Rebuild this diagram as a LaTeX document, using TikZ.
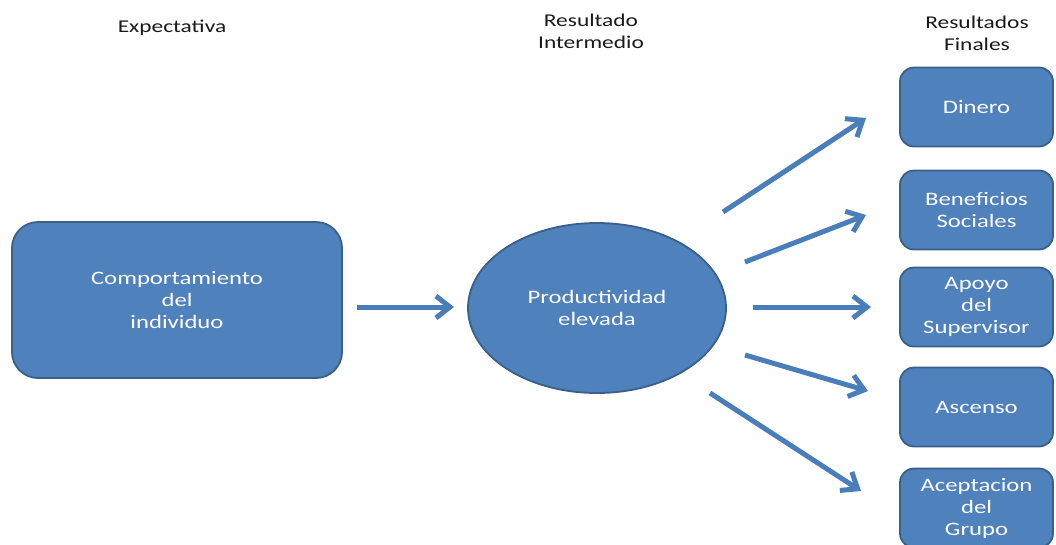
\documentclass[tikz,border=0pt]{standalone}
\usepackage{fontspec}
\setmainfont{Carlito}[FakeStretch=1.3]
\usetikzlibrary{shapes.geometric,arrows.meta}
\definecolor{boxfill}{HTML}{4F81BD}
\definecolor{boxline}{HTML}{3A5F8B}
\definecolor{arrcol}{HTML}{4A7EBB}
\definecolor{headcol}{HTML}{1A1A1A}
\tikzset{
  bluebox/.style={draw=boxline, line width=1.8pt, fill=boxfill, text=white,
    rounded corners=#1, align=center, font=\fontsize{19}{22}\selectfont, inner sep=0pt},
  bluebox/.default=14pt,
  blueell/.style={ellipse, draw=boxline, line width=1.8pt, fill=boxfill, text=white,
    align=center, font=\fontsize{19}{22}\selectfont, inner sep=0pt},
  header/.style={text=headcol, align=center, font=\fontsize{18}{22}\selectfont},
  arr/.style={draw=arrcol, line width=5pt,
    -{Straight Barb[length=14pt,width=22pt,line width=5pt]}},
}
\begin{document}
\begin{tikzpicture}[x=1pt,y=-1pt]
\clip (0,0) rectangle (1056,544);
\fill[white] (0,0) rectangle (1056,544);
% headers
\node[header] (h1) at (172,28) {Expectativa};
\node[header] (h2) at (591,31) {Resultado\\Intermedio};
\node[header] (h3) at (977,33) {Resultados\\Finales};
% main nodes
\node[bluebox=26pt, minimum width=330pt, minimum height=156pt] (comp) at (177,300)
  {Comportamiento\\del\\individuo};
\node[blueell, minimum width=258pt, minimum height=170pt] (prod) at (597,308)
  {Productividad\\elevada};
% right boxes
\node[bluebox, minimum width=153pt, minimum height=79pt] (din) at (976.5,107) {Dinero};
\node[bluebox, minimum width=153pt, minimum height=79pt] (ben) at (976.5,210) {Beneficios\\Sociales};
\node[bluebox, minimum width=153pt, minimum height=79pt] (apo) at (976.5,307) {Apoyo\\del\\Supervisor};
\node[bluebox, minimum width=153pt, minimum height=79pt] (asc) at (976.5,407) {Ascenso};
\node[bluebox, minimum width=153pt, minimum height=79pt] (ace) at (976.5,508) {Aceptacion\\del\\Grupo};
% arrow end points
\coordinate (a0s) at (357,307);  \coordinate (a0e) at (454,307);
\coordinate (a1s) at (723,212);  \coordinate (a1e) at (866,118);
\coordinate (a2s) at (745,262);  \coordinate (a2e) at (866,215);
\coordinate (a3s) at (753,307);  \coordinate (a3e) at (871,307);
\coordinate (a4s) at (745,355);  \coordinate (a4e) at (868,391);
\coordinate (a5s) at (710,393);  \coordinate (a5e) at (861,491);
\draw[arr] (a0s) -- (a0e);
\draw[arr] (a1s) -- (a1e);
\draw[arr] (a2s) -- (a2e);
\draw[arr] (a3s) -- (a3e);
\draw[arr] (a4s) -- (a4e);
\draw[arr] (a5s) -- (a5e);
\end{tikzpicture}
\end{document}
